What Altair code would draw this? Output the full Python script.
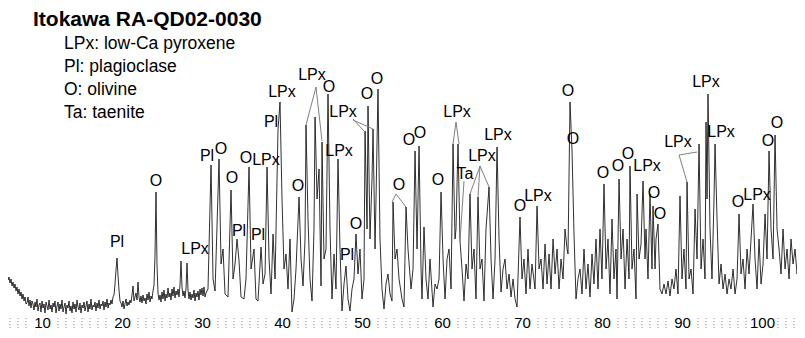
import altair as alt
import pandas as pd

title_text = "Itokawa RA-QD02-0030"
legend_lines = ["LPx: low-Ca pyroxene", "Pl: plagioclase", "O: olivine", "Ta: taenite"]

# low-angle part: scan from 5.625 deg in 0.125 deg steps up to 30.5 deg
low_start = 5.625
low_step = 0.125
inten_low = [
    40, 35, 38, 32, 36, 29, 33, 27, 31, 24, 28, 21, 26, 19, 23, 16, 21, 14, 18, 11,
    12, 18, 9, 15, 7, 14, 11, 5, 13, 8,
    16, 4, 10, 12, 3, 14, 7, 11, 2, 13,
    9, 5, 15, 6, 10, 3, 12, 8, 14, 2,
    9, 13, 4, 11, 6, 15, 3, 8, 12, 1,
    10, 7, 14, 4, 9, 2, 13, 6, 11, 3,
    15, 8, 5, 12, 2, 10, 7, 13, 4, 9,
    14, 3, 11, 6, 16, 5, 10, 8, 13, 4,
    12, 7, 15, 6, 11, 9, 14, 5, 13, 8,
    16, 7, 12, 10, 15, 11, 18,
    20, 31, 45, 57, 40, 25, 14,
    12, 8, 14, 6, 11, 16, 9, 13, 10, 15, 12, 20, 29, 14, 18, 22, 15, 33, 18, 13,
    19, 12, 20, 14, 17, 11, 21, 15, 23, 13, 19, 16, 24, 30, 60, 123, 50, 22, 15, 20,
    13, 23, 16, 25, 14, 21, 17, 27, 18, 22, 15, 26, 19, 28, 17, 24, 20, 26, 18, 30,
    54, 28, 19, 24, 17, 26, 52, 25, 16, 23, 15, 21, 17, 25, 14, 22, 18, 24, 15, 26,
    20, 27, 19, 28, 18, 22,
]
theta_low = [round(low_start + low_step * i, 3) for i in range(len(inten_low))]

# high-angle part (dense peak forest), peaks and the minima between them
theta_high = [
    30.75, 31.13, 31.38, 31.63, 32.13, 32.38, 32.63, 32.88, 33.25, 33.63, 33.88, 34.13, 34.38, 34.63, 34.88, 35.25,
    35.5, 35.88, 36.13, 36.5, 36.75, 37.0, 37.38, 37.63, 37.88, 38.13, 38.38, 38.63, 38.88, 39.13, 39.5, 39.75,
    40.0, 40.25, 40.5, 40.75, 41.0, 41.25, 41.5, 41.75, 42.13, 42.38, 42.63, 42.88, 43.0, 43.25, 43.5, 43.75,
    44.0, 44.13, 44.38, 44.63, 44.88, 45.0, 45.25, 45.5, 45.75, 46.0, 46.25, 46.5, 46.75, 47.0, 47.25, 47.5,
    47.75, 48.0, 48.25, 48.5, 48.75, 49.0, 49.25, 49.5, 49.75, 50.0, 50.25, 50.38, 50.63, 50.75, 51.0, 51.25,
    51.38, 51.63, 51.75, 52.0, 52.25, 52.5, 52.75, 53.0, 53.25, 53.5, 53.75, 53.88, 54.13, 54.38, 54.63, 55.0,
    55.25, 55.5, 55.75, 56.13, 56.38, 56.63, 56.88, 57.13, 57.38, 57.5, 57.75, 58.0, 58.25, 58.5, 58.88, 59.13,
    59.38, 59.63, 59.88, 60.13, 60.38, 60.63, 60.88, 61.13, 61.38, 61.63, 61.75, 62.0, 62.25, 62.5, 62.75, 63.0,
    63.25, 63.5, 63.75, 64.0, 64.25, 64.5, 64.75, 65.0, 65.25, 65.5, 65.88, 66.13, 66.38, 66.63, 66.88, 67.13,
    67.38, 67.63, 67.88, 68.13, 68.38, 68.63, 68.88, 69.13, 69.38, 69.75, 70.0, 70.25, 70.5, 70.75, 71.0, 71.25,
    71.63, 71.88, 72.13, 72.38, 72.63, 72.88, 73.13, 73.38, 73.63, 73.88, 74.13, 74.38, 74.63, 74.88, 75.13, 75.38,
    75.63, 75.75, 76.0, 76.25, 76.5, 76.75, 77.0, 77.25, 77.5, 77.75, 78.0, 78.25, 78.5, 78.75, 79.0, 79.25,
    79.5, 79.75, 80.0, 80.25, 80.5, 80.75, 81.0, 81.25, 81.5, 81.75, 81.88, 82.13, 82.38, 82.63, 82.88, 83.13,
    83.38, 83.5, 83.75, 84.0, 84.25, 84.38, 84.63, 84.88, 85.13, 85.38, 85.5, 85.75, 86.0, 86.25, 86.38, 86.63,
    86.75, 87.0, 87.25, 87.5, 87.75, 88.0, 88.25, 88.5, 88.75, 89.0, 89.25, 89.5, 89.75, 90.0, 90.25, 90.5,
    90.63, 90.88, 91.13, 91.38, 91.63, 91.88, 92.13, 92.38, 92.63, 92.88, 93.0, 93.13, 93.25, 93.5, 93.75, 94.0,
    94.13, 94.38, 94.63, 94.88, 95.13, 95.38, 95.63, 95.88, 96.13, 96.38, 96.63, 96.88, 97.13, 97.38, 97.63, 97.88,
    98.13, 98.38, 98.63, 98.88, 99.13, 99.38, 99.63, 99.88, 100.13, 100.38, 100.63, 100.88, 101.13, 101.38, 101.63,
    101.88, 102.13, 102.38, 102.63, 102.88, 103.13, 103.38, 103.63, 103.88, 104.13, 104.38, 104.63, 104.88, 105.13,
]
inten_high = [
    26, 150, 36, 24, 156, 51, 66, 21, 18, 125, 36, 51, 76, 54, 18, 16,
    36, 148, 46, 66, 16, 14, 68, 31, 41, 148, 56, 21, 81, 36, 185, 213,
    116, 46, 61, 26, 76, 3, 16, 46, 118, 56, 29, 76, 190, 96, 36, 14,
    86, 198, 116, 146, 29, 173, 56, 66, 221, 86, 16, 61, 26, 156, 66, 4,
    31, 49, 16, 4, 26, 36, 81, 41, 66, 16, 36, 184, 86, 209, 76, 136,
    186, 66, 116, 226, 76, 26, 6, 31, 41, 21, 14, 113, 56, 66, 36, 16,
    8, 108, 66, 26, 46, 164, 66, 169, 46, 16, 88, 36, 16, 56, 8, 31,
    26, 36, 123, 56, 16, 56, 66, 26, 171, 76, 86, 171, 74, 46, 14, 51,
    36, 121, 46, 66, 16, 118, 46, 56, 14, 86, 128, 56, 16, 56, 168, 76,
    23, 46, 56, 26, 41, 18, 36, 16, 8, 98, 36, 56, 21, 66, 26, 51,
    26, 109, 46, 56, 26, 71, 31, 61, 26, 76, 41, 66, 26, 56, 36, 86,
    66, 61, 213, 165, 81, 16, 36, 46, 21, 66, 26, 51, 18, 61, 31, 76,
    26, 86, 36, 131, 46, 76, 21, 96, 36, 66, 16, 136, 56, 86, 26, 76,
    36, 149, 46, 66, 16, 121, 56, 71, 134, 56, 86, 36, 121, 46, 109, 46,
    76, 91, 26, 21, 31, 21, 34, 19, 36, 26, 46, 21, 119, 36, 66, 26,
    133, 36, 46, 21, 106, 56, 171, 46, 76, 36, 193, 116, 221, 86, 36, 116,
    171, 96, 31, 51, 26, 41, 21, 36, 26, 46, 21, 36, 101, 41, 56, 26,
    66, 41, 76, 111, 56, 26, 76, 31, 51, 101, 56, 164, 86, 56, 180,
    86, 66, 41, 86, 46, 66, 36, 76, 51, 66, 41, 61, 36, 51,
]

label_text = ["Pl", "O", "LPx", "Pl", "O", "O", "Pl", "O", "Pl", "LPx", "Pl", "LPx", "O", "LPx", "O", "LPx",
              "LPx", "Pl", "O", "O", "O", "O", "O", "O", "O", "LPx", "Ta", "LPx", "LPx", "O", "LPx", "O",
              "O", "O", "O", "O", "LPx", "O", "O", "LPx", "LPx", "LPx", "O", "LPx", "O", "O"]
label_theta = [19.38, 24.25, 29.13, 30.63, 32.38, 33.75, 34.63, 35.5, 37.0, 38.0, 38.63, 40.0, 42.0, 43.75,
               45.88, 47.13, 47.63, 48.13, 49.25, 50.63, 51.88, 54.63, 55.88, 57.25, 59.5, 61.88, 62.88, 65.0,
               67.0, 69.75, 72.0, 75.75, 76.38, 80.13, 82.0, 83.25, 85.63, 86.5, 87.25, 89.5, 93.0, 94.88,
               97.0, 99.38, 100.75, 101.88]
label_int = [73, 134, 66, 159, 166, 137, 84, 157, 80, 155, 193, 223, 129, 240, 228, 164, 203, 60, 91, 221,
             236, 130, 175, 182, 135, 203, 141, 159, 180, 109, 119, 224, 176, 142, 149, 161, 149, 122, 101,
             173, 233, 183, 113, 120, 174, 192]

lead_theta = [44.25, 44.25, 48.88, 48.88, 54.25, 54.25, 61.75, 61.75, 62.75, 64.75, 64.75, 64.75, 89.63, 89.63]
lead_int = [228, 228, 196, 195, 121, 121, 193, 193, 134, 149, 149, 149, 160, 160]
lead_theta2 = [43.0, 45.0, 50.25, 51.38, 53.75, 55.5, 61.38, 62.13, 62.25, 63.5, 64.5, 65.88, 90.63, 91.88]
lead_int2 = [190, 174, 184, 186, 113, 108, 171, 171, 74, 121, 118, 128, 133, 163]

label_degrees = [10, 20, 30, 40, 50, 60, 70, 80, 90, 100]
minor_degrees = [d for d in range(6, 105) if d % 10 not in (9, 0, 1)]

X_DOMAIN = [5.75, 104.375]
Y_DOMAIN = [0, 307]
FONT = "Liberation Sans, Arial, Helvetica, sans-serif"

trace_df = pd.DataFrame({"theta": theta_low + theta_high, "inten": inten_low + inten_high})
label_df = pd.DataFrame({"theta": label_theta, "inten": label_int, "txt": label_text})
lead_df = pd.DataFrame({"theta": lead_theta, "inten": lead_int, "theta2": lead_theta2, "inten2": lead_int2})
tick_df = pd.DataFrame({"theta": minor_degrees})

xscale = alt.Scale(domain=X_DOMAIN, nice=False, zero=False)
yscale = alt.Scale(domain=Y_DOMAIN, nice=False, zero=False)

trace = alt.Chart(trace_df).mark_line(color="#1a1a1a", strokeWidth=0.9, clip=True).encode(
    x=alt.X("theta:Q", scale=xscale, title=None,
            axis=alt.Axis(values=label_degrees, domain=False, grid=False, ticks=False, tickSize=0,
                          labelFont=FONT, labelFontSize=15, labelColor="#000000",
                          labelPadding=0, labelFlush=False, labelOverlap=False)),
    y=alt.Y("inten:Q", scale=yscale, axis=None),
)

ticks = alt.Chart(tick_df).mark_rule(color="#8c8c8c", strokeWidth=1, strokeDash=[1, 2]).encode(
    x=alt.X("theta:Q", scale=xscale), y=alt.value(310), y2=alt.value(321),
)

leaders = alt.Chart(lead_df).mark_rule(color="#808080", strokeWidth=1).encode(
    x=alt.X("theta:Q", scale=xscale), y=alt.Y("inten:Q", scale=yscale),
    x2="theta2:Q", y2="inten2:Q",
)

labels = alt.Chart(label_df).mark_text(font=FONT, fontSize=16, color="#000000",
                                       align="center", baseline="middle").encode(
    x=alt.X("theta:Q", scale=xscale), y=alt.Y("inten:Q", scale=yscale), text="txt:N",
)

one = pd.DataFrame({"a": [0]})
title = alt.Chart(one).mark_text(font=FONT, fontSize=21, fontWeight="bold", color="#000000",
                                 align="left", baseline="middle").encode(
    x=alt.value(25), y=alt.value(12), text=alt.value(title_text))

legend_layers = [
    alt.Chart(one).mark_text(font=FONT, fontSize=17.5, color="#000000", align="left",
                             baseline="middle").encode(
        x=alt.value(56), y=alt.value(36 + 23 * i), text=alt.value(line))
    for i, line in enumerate(legend_lines)
]

chart = alt.layer(trace, ticks, leaders, labels, title, *legend_layers).properties(
    width=789, height=307, padding=0
).configure_view(stroke=None)

chart.save("out.html", embed_options={"renderer": "svg", "actions": False})
